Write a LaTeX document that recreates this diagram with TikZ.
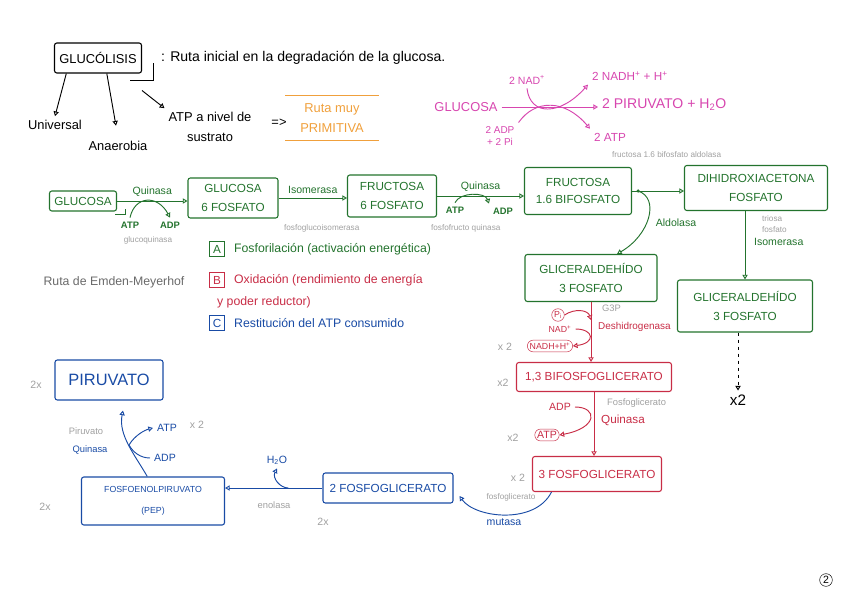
\documentclass[tikz,border=0pt]{standalone}
\usepackage{fontspec}
\setmainfont{Liberation Sans}
\usetikzlibrary{positioning, arrows.meta, calc}

\definecolor{leaf}{RGB}{35,115,45}
\definecolor{plum}{RGB}{215,70,175}
\definecolor{carrot}{RGB}{240,160,60}
\definecolor{brick}{RGB}{200,45,70}
\definecolor{inkblue}{RGB}{25,75,165}
\definecolor{pencil}{RGB}{160,160,160}
\definecolor{darkpencil}{RGB}{105,105,105}

\begin{document}
\begin{tikzpicture}[
    x=0.03cm, y=-0.03cm,
    stage/.style={draw, line width=0.9pt, rounded corners=2pt, align=center, inner sep=2pt, font=\fontsize{10}{16}\selectfont},
    flow/.style={line width=0.8pt, -{Triangle[open, length=4pt, width=4.5pt]}},
    handfont/.style={font=\fontsize{11}{17}\selectfont},
    note/.style={font=\fontsize{9}{11}\selectfont},
    smallnote/.style={font=\fontsize{7.5}{9}\selectfont},
    pencilnote/.style={text=pencil, font=\fontsize{7}{9}\selectfont},
    oval/.style={draw, rounded corners=5pt, inner sep=2pt}
]
\useasboundingbox (0,0) rectangle (848,599);

% Title and general notes
\node[stage, draw=black, minimum width=2.61cm, minimum height=0.9cm, font=\fontsize{11}{13}\selectfont] (title) at (98,58) {GLUCÓLISIS};
\draw[line width=0.8pt] ($(title.south east)+(-12,7)$) -- ++(23,0) -- ++(0,-18);
\node[font=\fontsize{12}{14}\selectfont, anchor=west] (defn) at (157,58) {: Ruta inicial en la degradación de la glucosa.};

\node[handfont] (univ) at (55,125) {Universal};
\node[handfont] (anaer) at (118,146) {Anaerobia};
\node[handfont, align=center] (subst) at (210,127) {ATP a nivel de\\sustrato};
\draw[flow] ($(title.south west)!0.14!(title.south east)$) -- (univ.north);
\draw[flow, shorten >=0.35cm] ($(title.south west)!0.6!(title.south east)$) -- (anaer.north);
\draw[flow] ($(title.south east)+(0,17)$) -- (subst.north west);

\node[handfont] (imply) at (279,123) {=>};
\node[text=carrot, handfont, align=center, minimum width=2.79cm, minimum height=1.32cm] (prim) at (332,118) {Ruta muy\\PRIMITIVA};
\draw[carrot, line width=0.8pt] (prim.north west) -- (prim.north east);
\draw[carrot, line width=0.8pt] (prim.south west) -- (prim.south east);

% Global balance (magenta)
\node[text=plum, font=\fontsize{11}{13}\selectfont] (mglc) at (466,107) {GLUCOSA};
\node[text=plum, font=\fontsize{12}{14}\selectfont, anchor=west] (mpyr) at (598,105) {2 PIRUVATO + H\textsubscript{2}O};
\node[text=plum, note] (mnad) at (527,80) {2 NAD\textsuperscript{+}};
\node[text=plum, font=\fontsize{10}{12}\selectfont, anchor=west] (mnadh) at (588,76) {2 NADH\textsuperscript{+} + H\textsuperscript{+}};
\node[text=plum, note, align=center, font=\fontsize{8.5}{10}\selectfont] (madp) at (500,136) {2 ADP\\+ 2 Pi};
\node[text=plum, font=\fontsize{10}{12}\selectfont, anchor=west] (matp) at (590,137) {2 ATP};
\draw[plum, flow] (mglc.east) -- (mglc.east -| mpyr.west);
\draw[plum, flow] (mnad.south) .. controls (530,116) and (560,116) .. (mnadh.south west);
\draw[plum, flow] (madp.north east) .. controls (535,99) and (565,99) .. (matp.north west);

% Phase A (green)
\node[stage, leaf, minimum width=2.01cm, minimum height=0.6cm] (glc) at (83,201) {GLUCOSA};
\draw[leaf, line width=0.8pt] ($(glc.south east)+(-2,3)$) -- ++(10,0) -- ++(0,-6);
\node[stage, leaf, minimum width=2.7cm, minimum height=1.2cm] (g6p) at (233,198) {GLUCOSA\\6 FOSFATO};
\draw[leaf, flow] (glc.east) -- (glc.east -| g6p.west) node[midway, above, note] (q1) {Quinasa};
\node[leaf, font=\bfseries\fontsize{8}{10}\selectfont] (atp1) at (130,225) {ATP};
\node[leaf, font=\bfseries\fontsize{8}{10}\selectfont] (adp1) at (170,225) {ADP};
\draw[leaf, flow] (atp1.north) .. controls (135,195) and (158,195) .. (adp1.north);
\node[pencilnote] (glcq) at (148,240) {glucoquinasa};

\node[stage, leaf, minimum width=2.67cm, minimum height=1.26cm] (f6p) at (392,196) {FRUCTOSA\\6 FOSFATO};
\draw[leaf, flow] (g6p.east) -- (g6p.east -| f6p.west) node[midway, above, note] (iso1) {Isomerasa};
\node[pencilnote, anchor=west] (pgi) at (280,228) {fosfoglucoisomerasa};

\node[stage, leaf, minimum width=3.21cm, minimum height=1.41cm, font=\fontsize{10}{15}\selectfont] (fbp) at (578,191) {FRUCTOSA\\1.6 BIFOSFATO};
\draw[leaf, flow] (f6p.east) -- (f6p.east -| fbp.west) node[midway, above, note] (q2) {Quinasa};
\node[leaf, font=\bfseries\fontsize{8}{10}\selectfont] (atp2) at (455,210) {ATP};
\node[leaf, font=\bfseries\fontsize{8}{10}\selectfont] (adp2) at (503,211) {ADP};
\draw[leaf, flow] (atp2.north) .. controls (460,192) and (485,192) .. (adp2.north west);
\node[pencilnote, anchor=west] (pfk) at (427,228) {fosfofructo quinasa};

\node[stage, leaf, minimum width=4.29cm, minimum height=1.35cm] (dhap) at (756,188) {DIHIDROXIACETONA\\FOSFATO};
\draw[leaf, flow] (fbp.east) -- (fbp.east -| dhap.west);
\coordinate (aldbr) at ($(fbp.east)+(6,0)$);
\fill[leaf] (aldbr) circle (1.5pt);
\node[pencilnote, anchor=west] (aldo) at (608,155) {fructosa 1.6 bifosfato aldolasa};

\node[stage, leaf, minimum width=3.96cm, minimum height=1.41cm] (gapL) at (591,278) {GLICERALDEHÍDO\\3 FOSFATO};
\draw[leaf, flow] (aldbr) .. controls (660,198) and (650,235) .. ($(gapL.north)+(26,0)$);
\node[text=leaf, note] (aldlab) at (676,223) {Aldolasa};

\node[stage, leaf, minimum width=4.05cm, minimum height=1.56cm] (gapR) at (745,306) {GLICERALDEHÍDO\\3 FOSFATO};
\draw[leaf, flow] (gapR.north |- dhap.south) -- (gapR.north);
\node[pencilnote, anchor=west, align=left] (tpi) at (758,224) {triosa\\fosfato};
\node[text=leaf, note, anchor=west] (isolab) at (750,242) {Isomerasa};
\node[font=\fontsize{13}{15}\selectfont] (x2r) at (738,400) {x2};
\draw[flow, dashed] (x2r.north |- gapR.south) -- (x2r.north);

% Legend
\node[text=darkpencil, font=\fontsize{10.5}{12}\selectfont] (emden) at (114,282) {Ruta de Emden-Meyerhof};
\foreach \tag/\col/\y/\txt in {A/leaf/249/Fosforilación (activación energética), B/brick/280/Oxidación (rendimiento de energía, C/inkblue/323/Restitución del ATP consumido} {
    \node[draw=\col, text=\col, line width=0.8pt, inner sep=1.5pt, minimum size=0.45cm, font=\fontsize{10}{12}\selectfont] (leg\tag) at (217,\y) {\tag};
    \node[text=\col, anchor=west, font=\fontsize{10.5}{12}\selectfont] (legtxt\tag) at (230,\y) {\txt};
}
\node[text=brick, anchor=west, font=\fontsize{10.5}{12}\selectfont] (legBmore) at (213,302) {y poder reductor)};

% Phase B (red)
\node[stage, brick, minimum width=4.65cm, minimum height=0.87cm] (bpg) at (594,377) {1,3 BIFOSFOGLICERATO};
\draw[brick, flow] (gapL.south) -- (gapL.south |- bpg.north);
\coordinate (pin) at ($(gapL.south)!0.3!(gapL.south |- bpg.north)$);
\node[circle, draw=brick, text=brick, inner sep=0.5pt, smallnote] (pi) at (558,315) {P\textsubscript{i}};
\node[text=brick, smallnote] (nad2) at (560,329) {NAD\textsuperscript{+}};
\node[oval, brick, smallnote] (nadh2) at (550,346) {NADH+H\textsuperscript{+}};
\draw[brick, flow] (pi.east) .. controls (575,308) and (588,310) .. (pin);
\draw[brick, flow] (nad2.east) .. controls (594,329) and (596,343) .. (nadh2.east);
\node[pencilnote, anchor=west, font=\fontsize{8}{9}\selectfont] (g3plab) at (598,308) {G3P};
\node[text=brick, anchor=west, font=\fontsize{8.5}{10}\selectfont] (dhlab) at (594,327) {Deshidrogenasa};

\node[stage, brick, minimum width=3.87cm, minimum height=1.05cm] (pg3) at (597,474) {3 FOSFOGLICERATO};
\draw[brick, flow] (bpg.south) -- (bpg.south |- pg3.north);
\node[text=brick, note] (adp3) at (560,407) {ADP};
\node[oval, brick, note] (atp3) at (547,435) {ATP};
\draw[brick, flow] (adp3.east) .. controls (598,407) and (598,428) .. (atp3.east);
\node[pencilnote, anchor=west, font=\fontsize{8}{9}\selectfont] (pgklab) at (603,403) {Fosfoglicerato};
\node[text=brick, anchor=west, font=\fontsize{10}{12}\selectfont] (qlab) at (597,420) {Quinasa};

% Phase C (blue)
\node[stage, inkblue, minimum width=3.9cm, minimum height=0.9cm] (pg2) at (388,488) {2 FOSFOGLICERATO};
\draw[inkblue, flow] ($(pg3.south west)!0.15!(pg3.south east)$) .. controls (535,525) and (475,518) .. ($(pg2.east)+(6,8)$);
\node[text=inkblue, note] (mutlab) at (504,522) {mutasa};
\node[pencilnote] (pgmlab) at (511,497) {fosfoglicerato};

\node[stage, inkblue, minimum width=4.29cm, minimum height=1.44cm, font=\fontsize{7.5}{18}\selectfont] (pep) at (153,501) {FOSFOENOLPIRUVATO\\(PEP)};
\draw[inkblue, flow] (pg2.west) -- (pg2.west -| pep.east);
\coordinate (enobr) at ($(pg2.west)!0.35!(pg2.west -| pep.east)$);
\node[text=inkblue, note] (h2o) at (277,460) {H\textsubscript{2}O};
\draw[inkblue, flow] (enobr) .. controls (280,488) and (272,478) .. (h2o.south);
\node[pencilnote, font=\fontsize{8}{9}\selectfont] (enolab) at (274,505) {enolasa};

\node[stage, inkblue, minimum width=3.24cm, minimum height=1.2cm, font=\fontsize{14}{16}\selectfont] (pyr) at (109,380) {PIRUVATO};
\coordinate (pkbr) at (129,445);
\draw[inkblue, flow] ($(pep.north west)!0.46!(pep.north east)$) .. controls (135,455) and (118,435) .. ($(pyr.south)+(14,10)$);
\node[text=inkblue, note, anchor=west] (atp5) at (153,428) {ATP};
\node[text=inkblue, note, anchor=west] (adp5) at (150,458) {ADP};
\draw[inkblue, flow] (pkbr) .. controls (135,435) and (145,430) .. (atp5.west);
\draw[inkblue, line width=0.8pt] (adp5.west) .. controls (140,458) and (133,452) .. (pkbr);
\node[pencilnote, font=\fontsize{8}{9}\selectfont] (pkgray) at (86,431) {Piruvato};
\node[text=inkblue, font=\fontsize{8}{9}\selectfont] (pkblue) at (90,450) {Quinasa};

% Pencil multipliers
\foreach \xx/\yy/\t [count=\k] in {505/347/x 2, 503/383/x2, 513/438/x2, 518/478/x 2, 197/425/x 2, 36/385/2x, 45/507/2x, 323/522/2x} {
    \node[pencilnote, font=\fontsize{9}{11}\selectfont] (times\k) at (\xx,\yy) {\t};
}

% Page number
\node[circle, draw, inner sep=1pt, font=\fontsize{9}{11}\selectfont] (page) at (826,580) {2};

\end{tikzpicture}
\end{document}
